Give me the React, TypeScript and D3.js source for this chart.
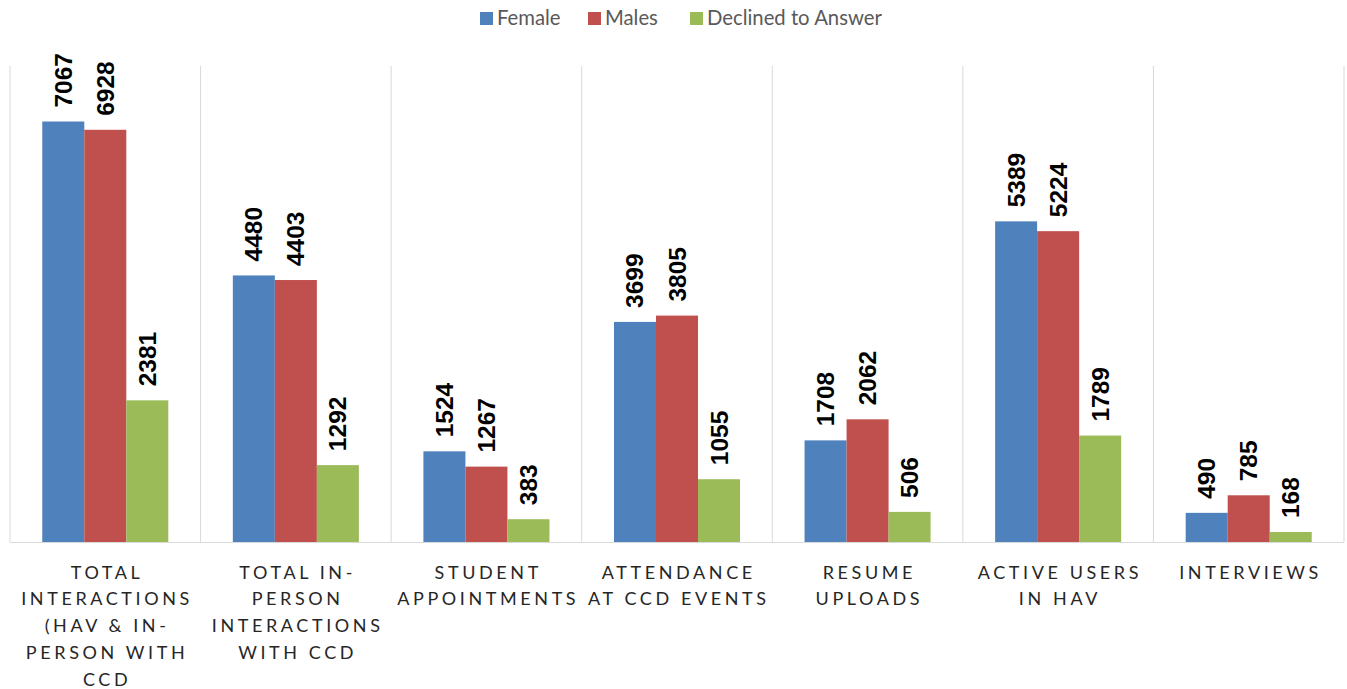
import React, { useEffect, useRef } from "react";
import * as d3 from "d3";

const categories = [
  "Total Interactions (HAV & In-Person with CCD",
  "Total In-Person Interactions with CCD",
  "Student Appointments",
  "Attendance at CCD Events",
  "Resume Uploads",
  "Active Users in HAV",
  "Interviews",
];
const categoryLines = [
  ["TOTAL", "INTERACTIONS", "(HAV & IN-", "PERSON WITH", "CCD"],
  ["TOTAL IN-", "PERSON", "INTERACTIONS", "WITH CCD"],
  ["STUDENT", "APPOINTMENTS"],
  ["ATTENDANCE", "AT CCD EVENTS"],
  ["RESUME", "UPLOADS"],
  ["ACTIVE USERS", "IN HAV"],
  ["INTERVIEWS"],
];
const seriesNames = ["Female", "Males", "Declined to Answer"];
const female = [7067, 4480, 1524, 3699, 1708, 5389, 490];
const males = [6928, 4403, 1267, 3805, 2062, 5224, 785];
const declined = [2381, 1292, 383, 1055, 506, 1789, 168];
const colors = ["#4F81BD", "#C0504D", "#9BBB59"];
const yMax = 8000;

export default function App() {
  const ref = useRef<SVGSVGElement>(null);
  useEffect(() => {
    const svg = d3.select(ref.current);
    svg.selectAll("*").remove();
    const left = 10, right = 1344, top = 66, bottom = 542;
    const series = [female, males, declined];

    const x0 = d3.scaleBand<string>().domain(categories).range([left, right]).paddingInner(0).paddingOuter(0);
    const x1 = d3.scaleBand<string>().domain(seriesNames).range([0, x0.bandwidth()]).paddingInner(0).paddingOuter(0.768);
    const y = d3.scaleLinear().domain([0, yMax]).range([bottom, top]);

    // vertical gridlines at category boundaries
    const bounds = categories.map((c) => x0(c)!).concat([right]);
    svg.append("g").selectAll("line").data(bounds).join("line")
      .attr("x1", (d) => d).attr("x2", (d) => d)
      .attr("y1", top).attr("y2", bottom)
      .attr("stroke", "#D9D9D9").attr("stroke-width", 1);

    // bars
    const g = svg.append("g");
    categories.forEach((c, i) => {
      seriesNames.forEach((s, j) => {
        const v = series[j][i];
        const bx = x0(c)! + x1(s)!;
        g.append("rect")
          .attr("x", bx).attr("y", y(v))
          .attr("width", x1.bandwidth()).attr("height", bottom - y(v))
          .attr("fill", colors[j]);
        const cx = bx + x1.bandwidth() / 2;
        g.append("text")
          .attr("transform", `translate(${cx + 8.5},${y(v) - 14}) rotate(-90)`)
          .attr("font-family", "Liberation Sans, Arial, sans-serif")
          .attr("font-weight", "bold")
          .attr("font-size", 24.5)
          .attr("fill", "#000")
          .text(String(v));
      });
    });

    // baseline
    svg.append("line").attr("x1", left).attr("x2", right).attr("y1", bottom + 0.5).attr("y2", bottom + 0.5)
      .attr("stroke", "#D9D9D9").attr("stroke-width", 1);

    // category labels
    const ls = 3.6;
    categories.forEach((c, i) => {
      const cx = x0(c)! + x0.bandwidth() / 2 + ls / 2;
      const t = svg.append("text")
        .attr("font-family", "Lato, Open Sans, sans-serif")
        .attr("font-size", 18)
        .attr("fill", "#262626")
        .attr("letter-spacing", ls)
        .attr("text-anchor", "middle");
      categoryLines[i].forEach((line, k) => {
        t.append("tspan").attr("x", cx).attr("y", 578.5 + k * 26.9).text(line);
      });
    });

    // legend
    const legendX = [480, 588, 690];
    seriesNames.forEach((s, j) => {
      svg.append("rect").attr("x", legendX[j]).attr("y", 12).attr("width", 13).attr("height", 13).attr("fill", colors[j]);
      svg.append("text").attr("x", legendX[j] + 17).attr("y", 24.5)
        .attr("font-family", "Lato, Open Sans, sans-serif")
        .attr("font-size", 20.3).attr("fill", "#595959").text(s);
    });
  }, []);
  return (
    <svg ref={ref} width={1347} height={689}
      style={{ position: "absolute", left: 0, top: 0, background: "#fff" }} />
  );
}
